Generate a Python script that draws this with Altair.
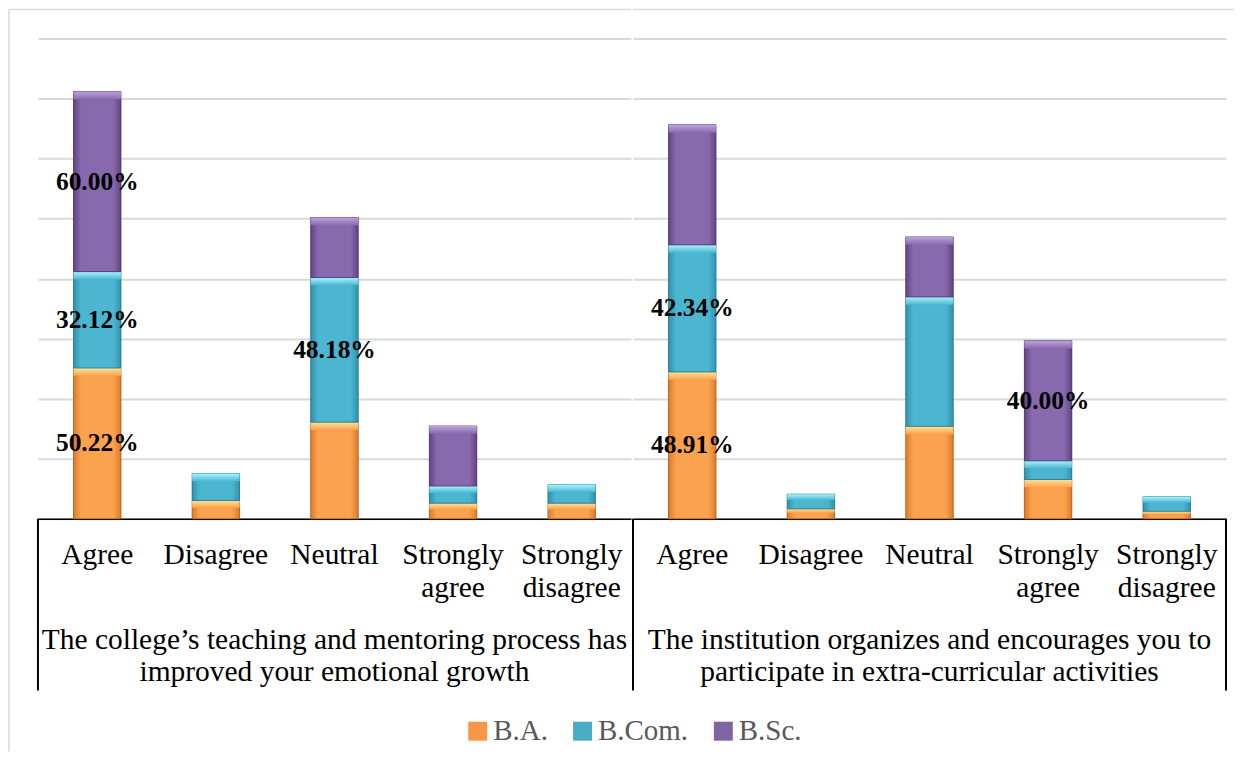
import altair as alt
import pandas as pd

FONT = "Liberation Serif"

categories = ["Agree", "Disagree", "Neutral", "Strongly agree", "Strongly disagree"]
series = ["B.A.", "B.Com.", "B.Sc."]
group_titles = [
    ["The college’s teaching and mentoring process has", "improved your emotional growth"],
    ["The institution organizes and encourages you to", "participate in extra-curricular activities"],
]

g1_ba = [50.22, 6.1, 32.2, 5.2, 5.2]
g1_bcom = [32.12, 9.0, 48.18, 5.7, 6.2]
g1_bsc = [60.00, 0.0, 20.0, 20.0, 0.0]
g2_ba = [48.91, 3.3, 30.8, 13.1, 2.5]
g2_bcom = [42.34, 4.9, 43.1, 6.2, 4.8]
g2_bsc = [40.0, 0.0, 20.0, 40.00, 0.0]

labeled = [
    (0, "Agree", "B.A."), (0, "Agree", "B.Com."), (0, "Agree", "B.Sc."),
    (0, "Neutral", "B.Com."),
    (1, "Agree", "B.A."), (1, "Agree", "B.Com."), (1, "Strongly agree", "B.Sc."),
]

legend_colors = ["#F79646", "#4BACC6", "#8064A2"]
edge_colors = ["#DE7C2A", "#2F93AE", "#624584"]
mid_colors = ["#FBA24E", "#4CB6D1", "#8869AD"]
bevel_colors = ["#FFE39A", "#A8F4FF", "#BBA4DE"]
stroke_colors = ["#A85A1C", "#22748A", "#4A3466"]

values = [[g1_ba, g1_bcom, g1_bsc], [g2_ba, g2_bcom, g2_bsc]]
rows = []
for gi in range(2):
    for si, s in enumerate(series):
        for ci, c in enumerate(categories):
            rows.append({
                "group": gi, "cat": c, "series": s, "order": si,
                "value": values[gi][si][ci],
                "label": (gi, c, s) in labeled,
            })
df = pd.DataFrame(rows)

W, H = 594, 481


def hgrad(edge, mid):
    return alt.Gradient(
        gradient="linear", x1=0, x2=1, y1=0, y2=0,
        stops=[
            alt.GradientStop(offset=0, color=edge),
            alt.GradientStop(offset=0.16, color=mid),
            alt.GradientStop(offset=0.84, color=mid),
            alt.GradientStop(offset=1, color=edge),
        ],
    )


def vgrad(top, mid):
    return alt.Gradient(
        gradient="linear", x1=0, x2=0, y1=0, y2=1,
        stops=[
            alt.GradientStop(offset=0, color=top),
            alt.GradientStop(offset=1, color=mid),
        ],
    )


x_enc = alt.X(
    "cat:N", sort=categories, title=None,
    scale=alt.Scale(domain=categories, paddingInner=0.6, paddingOuter=0.3),
    axis=alt.Axis(
        labelAngle=0, labelFont=FONT, labelFontSize=29.5, labelColor="black",
        labelLineHeight=33, labelPadding=22, ticks=False, tickSize=0,
        domainColor="black", domainWidth=1.5, grid=False,
        labelExpr="split(datum.label, ' ')", labelLimit=300,
    ),
)
y_scale = alt.Scale(domain=[0, 160], nice=False)
y_axis = alt.Axis(
    values=[0, 20, 40, 60, 80, 100, 120, 140, 160], labels=False, ticks=False,
    domain=False, grid=True, gridColor="#d9d9d9", gridWidth=2,
)


def panel(gi):
    d = df[df["group"] == gi]
    base = alt.Chart(d).transform_filter("datum.value > 0").transform_stack(
        stack="value", groupby=["cat"], as_=["y0", "y1"],
        sort=[alt.SortField("order", order="ascending")],
    ).transform_calculate(
        ybev="datum.y1 - min(2.6, (datum.y1 - datum.y0) * 0.4)",
        ymid="(datum.y0 + datum.y1) / 2",
        txt="format(datum.value, '.2f') + '%'",
    )
    layers = []
    layers.append(base.mark_bar().encode(
        x=x_enc,
        y=alt.Y("y1:Q", scale=y_scale, axis=y_axis, title=None),
        y2="y0:Q",
        color=alt.Color(
            "series:N", scale=alt.Scale(domain=series, range=legend_colors),
            legend=alt.Legend(
                title=None, orient="none", direction="horizontal",
                legendX=426, legendY=679, labelFont=FONT, labelFontSize=29,
                labelColor="#595959", symbolType="square", symbolSize=361,
                symbolStrokeWidth=0, labelOffset=1, columnPadding=20,
            ),
        ),
    ))
    for si, s in enumerate(series):
        sub = base.transform_filter(alt.datum.series == s)
        layers.append(sub.mark_bar(
            fill=hgrad(edge_colors[si], mid_colors[si]),
            stroke=stroke_colors[si], strokeWidth=1, strokeOpacity=0.8,
        ).encode(
            x=x_enc,
            y=alt.Y("y1:Q", scale=y_scale, axis=y_axis, title=None),
            y2="y0:Q",
        ))
        layers.append(sub.mark_bar(
            fill=vgrad(bevel_colors[si], mid_colors[si]),
        ).encode(
            x=x_enc,
            y=alt.Y("y1:Q", scale=y_scale, axis=y_axis, title=None),
            y2="ybev:Q",
        ))
    layers.append(base.transform_filter("datum.label").mark_text(
        font=FONT, fontSize=25.5, fontWeight="bold", color="black",
        align="center", baseline="middle",
    ).encode(
        x=x_enc,
        y=alt.Y("ymid:Q", scale=y_scale, axis=y_axis, title=None),
        text="txt:N",
    ))
    one = alt.Chart(pd.DataFrame({"k": [0]}))
    # group (second-level category) label
    layers.append(one.mark_text(
        text=group_titles[gi], font=FONT, fontSize=29.5, color="black",
        align="center", baseline="top", lineHeight=32.5,
    ).encode(x=alt.value(W / 2), y=alt.value(H + 107)))
    sep = one.mark_rule(color="black", strokeWidth=2)
    layers.append(sep.encode(x=alt.value(0), y=alt.value(H), y2=alt.value(H + 172)))
    border = one.mark_rule(color="#d9d9d9", strokeWidth=1.5)
    if gi == 0:
        layers.append(border.encode(x=alt.value(-29), y=alt.value(-29), y2=alt.value(714)))
        layers.append(border.encode(x=alt.value(-29), x2=alt.value(W), y=alt.value(-29)))
    else:
        layers.append(sep.encode(x=alt.value(W), y=alt.value(H), y2=alt.value(H + 172)))
        layers.append(border.encode(x=alt.value(0), x2=alt.value(W + 8), y=alt.value(-29)))
    return alt.layer(*layers).properties(width=W, height=H)


chart = alt.hconcat(panel(0), panel(1), spacing=0).properties(
    padding={"left": 0, "right": 0, "top": 0, "bottom": 0},
).configure_view(strokeWidth=0)

chart.save("out.html", embed_options={"renderer": "svg", "actions": False})
